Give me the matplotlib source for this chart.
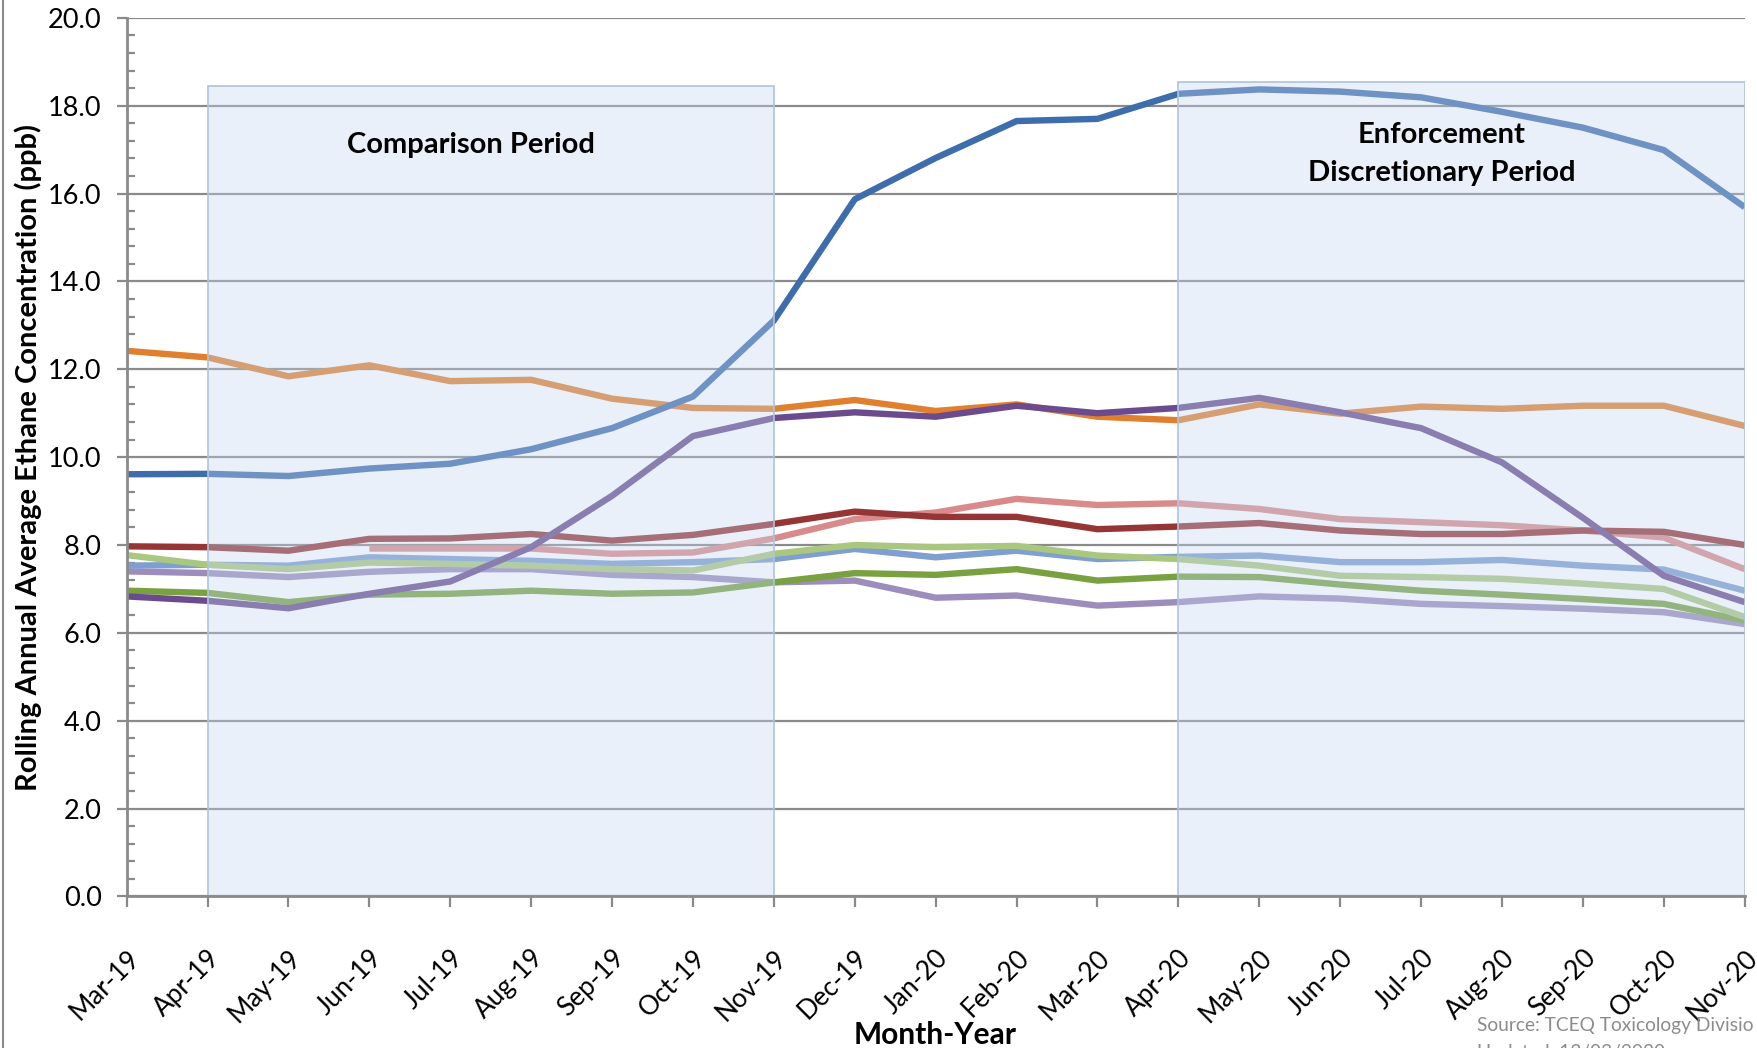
import numpy as np
import matplotlib
matplotlib.use("Agg")
import matplotlib.pyplot as plt
from matplotlib.patches import Rectangle
from matplotlib.lines import Line2D
from matplotlib.ticker import MultipleLocator
from matplotlib.transforms import ScaledTranslation

plt.rcParams['font.family'] = ['Lato', 'DejaVu Sans']

#-----Data-----#
Months = ["Mar-19", "Apr-19", "May-19", "Jun-19", "Jul-19", "Aug-19", "Sep-19",
          "Oct-19", "Nov-19", "Dec-19", "Jan-20", "Feb-20", "Mar-20", "Apr-20",
          "May-20", "Jun-20", "Jul-20", "Aug-20", "Sep-20", "Oct-20", "Nov-20"]

Blue = [9.61, 9.62, 9.57, 9.74, 9.85, 10.18, 10.66, 11.38, 13.11, 15.87, 16.81,
        17.65, 17.70, 18.27, 18.37, 18.32, 18.19, 17.86, 17.50, 16.99, 15.69]
Orange = [12.42, 12.27, 11.84, 12.09, 11.73, 11.76, 11.33, 11.12, 11.10, 11.30, 11.05,
          11.20, 10.92, 10.84, 11.20, 10.99, 11.15, 11.10, 11.17, 11.17, 10.71]
Purple = [6.83, 6.73, 6.56, 6.89, 7.17, 7.95, 9.12, 10.48, 10.89, 11.02, 10.92,
          11.17, 11.00, 11.12, 11.35, 11.02, 10.66, 9.88, 8.62, 7.30, 6.70]
DarkRed = [7.97, 7.95, 7.87, 8.14, 8.15, 8.25, 8.10, 8.23, 8.48, 8.76, 8.64,
           8.64, 8.36, 8.42, 8.50, 8.33, 8.25, 8.25, 8.33, 8.30, 8.00]
Pink = [None, None, None, 7.92, 7.92, 7.92, 7.80, 7.83, 8.15, 8.59, 8.74,
        9.05, 8.91, 8.95, 8.82, 8.59, 8.52, 8.45, 8.33, 8.17, 7.45]
LightGreen = [7.77, 7.55, 7.45, 7.60, 7.57, 7.53, 7.45, 7.42, 7.80, 8.00, 7.95,
              7.98, 7.76, 7.68, 7.53, 7.30, 7.27, 7.23, 7.12, 7.00, 6.36]
LightBlue = [7.53, 7.55, 7.53, 7.72, 7.68, 7.64, 7.57, 7.61, 7.68, 7.91, 7.72,
             7.87, 7.68, 7.73, 7.76, 7.61, 7.61, 7.66, 7.53, 7.44, 6.96]
Green = [6.96, 6.91, 6.70, 6.87, 6.89, 6.96, 6.89, 6.92, 7.15, 7.36, 7.32,
         7.45, 7.19, 7.28, 7.27, 7.10, 6.96, 6.87, 6.77, 6.66, 6.28]
Lavender = [7.40, 7.36, 7.27, 7.39, 7.45, 7.45, 7.32, 7.27, 7.15, 7.19, 6.80,
            6.85, 6.62, 6.70, 6.83, 6.78, 6.66, 6.61, 6.55, 6.47, 6.20]

# drawn bottom to top
SeriesList = [Lavender, Green, LightBlue, LightGreen, Pink, DarkRed, Orange, Purple, Blue]
ColorList = ["#9d8dbd", "#79a13f", "#7e9fd0", "#aac77f", "#d98a8a", "#963535",
             "#e0802e", "#6b4b8d", "#3e6dab"]

ComparisonPeriod = ("Apr-19", "Nov-19", 18.45)
EnforcementPeriod = ("Apr-20", "Nov-20", 18.55)
#-----Data-----#

fig = plt.figure(figsize=(17.57, 10.48), dpi=100)
ax = fig.add_axes([0.0721, 0.1446, 0.9209, 0.8384])

x = np.arange(len(Months))
for Series, Color in zip(SeriesList, ColorList):
    y = np.array([np.nan if v is None else v for v in Series], dtype=float)
    ax.plot(x, y, color=Color, lw=4.6, solid_capstyle="butt", zorder=3)

# shaded periods (semi transparent, over the lines)
for Start, End, Top in [ComparisonPeriod, EnforcementPeriod]:
    x0, x1 = Months.index(Start), Months.index(End)
    ax.add_patch(Rectangle((x0, 0), x1 - x0, Top, facecolor="#c3d6ef", alpha=0.36,
                           edgecolor="none", zorder=4))
    ax.add_patch(Rectangle((x0, 0), x1 - x0, Top, facecolor="none",
                           edgecolor="#b0c3dc", lw=1.2, zorder=4))

ax.text(4.25, 17.1, "Comparison Period", ha="center", va="center",
        fontsize=21, fontweight="bold", zorder=5)
ax.text(16.25, 16.9, "Enforcement\nDiscretionary Period", ha="center", va="center",
        fontsize=21, fontweight="bold", linespacing=1.6, zorder=5)

ax.set_xlim(0, 20)
ax.set_ylim(0, 20)
ax.set_xticks(x)
ax.set_xticklabels(Months, rotation=45, ha="right", rotation_mode="anchor", fontsize=18.8)
Shift = ScaledTranslation(-7 / 100, 0, fig.dpi_scale_trans)
for Label in ax.get_xticklabels():
    Label.set_transform(Label.get_transform() + Shift)
ax.yaxis.set_major_locator(MultipleLocator(2))
ax.yaxis.set_minor_locator(MultipleLocator(0.4))
ax.set_yticks(np.arange(0, 20.1, 2))
ax.set_yticklabels([f"{v:.1f}" for v in np.arange(0, 20.1, 2)], fontsize=19.5)

ax.grid(axis="y", which="major", color="#8a8a8a", lw=1.6, zorder=1)
ax.set_axisbelow(True)
for s in ["top", "right"]:
    ax.spines[s].set_visible(False)
for s in ["left", "bottom"]:
    ax.spines[s].set_color("#8a8a8a")
    ax.spines[s].set_linewidth(2)
    ax.spines[s].set_zorder(6)
ax.tick_params(axis="y", which="major", direction="out", length=7, width=1.6,
               color="#8a8a8a", pad=11)
ax.tick_params(axis="y", which="minor", direction="in", length=6, width=1.6,
               color="#8a8a8a")
ax.tick_params(axis="x", which="major", direction="out", length=8, width=1.6,
               color="#8a8a8a", pad=27)

ax.set_ylabel("Rolling Annual Average Ethane Concentration (ppb)", fontsize=21,
              fontweight="bold", labelpad=4)
fig.text(0.5325, 0.004, "Month-Year", ha="center", va="baseline",
         fontsize=21.5, fontweight="bold")

fig.text(0.8405, 0.0158, "Source: TCEQ Toxicology Divisio", fontsize=13.8, color="#8c8c8c")
fig.text(0.8405, -0.0097, "Updated: 12/03/2020", fontsize=13.8, color="#8c8c8c")

fig.add_artist(Line2D([0.0015, 0.0015], [0, 1], transform=fig.transFigure,
                      color="#8a8a8a", lw=1.5))

fig.savefig("out.png", dpi=100)
